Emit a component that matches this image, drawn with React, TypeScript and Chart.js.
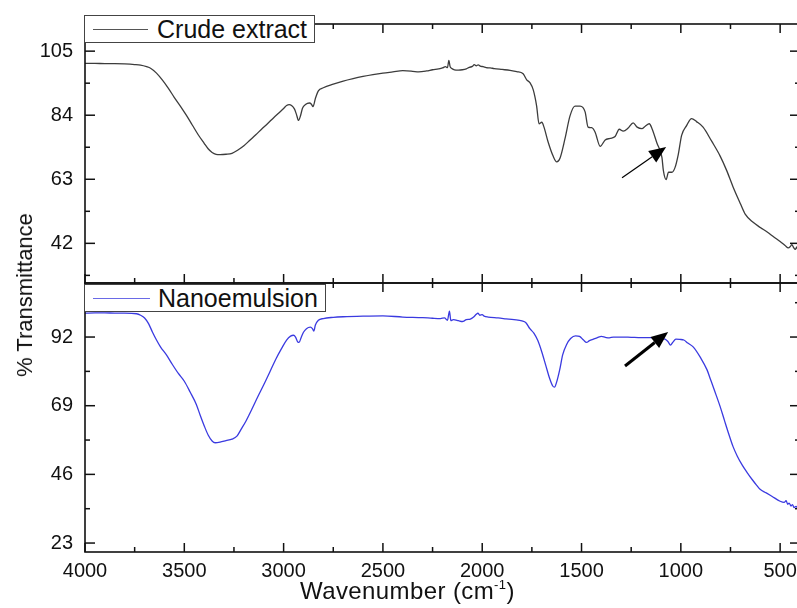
import React, { useEffect, useRef } from "react";
import { Chart, registerables } from "chart.js";

Chart.register(...registerables);

const FONT = '"Liberation Sans", Arial, Helvetica, sans-serif';

// x axis (wavenumber, reversed)
const X_MIN = 400;
const X_MAX = 4000;
const X_MAJOR = [4000, 3500, 3000, 2500, 2000, 1500, 1000, 500];
const X_MINOR = [3750, 3250, 2750, 2250, 1750, 1250, 750];

// top panel (Crude extract)
const TOP_Y_MIN = 29;
const TOP_Y_MAX = 113.9;
const TOP_Y_MAJOR = [42, 63, 84, 105];
const TOP_Y_MINOR = [31.5, 52.5, 73.5, 94.5];

// bottom panel (Nanoemulsion)
const BOT_Y_MIN = 20;
const BOT_Y_MAX = 110.1;
const BOT_Y_MAJOR = [23, 46, 69, 92];
const BOT_Y_MINOR = [34.5, 57.5, 80.5, 103.5];

const CRUDE_LABEL = "Crude extract";
const NANO_LABEL = "Nanoemulsion";

// [wavenumber, %T]
const CRUDE: [number, number][] = [
  [4000, 101.0], [3950, 101.0], [3900, 100.9], [3850, 100.9], [3800, 100.8],
  [3750, 100.6], [3720, 100.4], [3690, 99.9], [3670, 99.4], [3640, 97.8],
  [3610, 95.5], [3580, 92.8], [3550, 89.8], [3520, 87.0], [3490, 84.0],
  [3460, 80.8], [3430, 77.6], [3400, 74.8], [3380, 73.0], [3360, 71.8],
  [3340, 71.2], [3320, 71.1], [3290, 71.2], [3260, 71.5], [3230, 72.6],
  [3200, 74.0], [3170, 75.8], [3140, 77.6], [3110, 79.5], [3080, 81.3],
  [3050, 83.2], [3020, 85.0], [3000, 86.2], [2985, 87.2], [2972, 87.5],
  [2960, 87.2], [2945, 86.0], [2935, 84.2], [2925, 82.3], [2915, 83.8],
  [2905, 86.3], [2890, 87.5], [2870, 88.0], [2860, 87.6], [2852, 86.8],
  [2840, 89.5], [2825, 92.0], [2800, 93.0], [2750, 94.2], [2700, 95.2],
  [2650, 96.0], [2600, 96.7], [2550, 97.3], [2500, 97.8], [2450, 98.2],
  [2400, 98.6], [2350, 98.4], [2320, 98.2], [2280, 98.5], [2250, 98.9],
  [2220, 99.2], [2200, 99.5], [2185, 99.9], [2175, 99.6], [2168, 102.0],
  [2162, 100.0], [2155, 99.4], [2140, 98.9], [2120, 98.8], [2100, 98.9],
  [2080, 99.2], [2065, 99.7], [2050, 100.0], [2040, 100.6], [2030, 100.2],
  [2020, 100.5], [2010, 100.1], [1995, 99.9], [1980, 99.6], [1960, 99.5],
  [1940, 99.3], [1900, 99.0], [1860, 98.7], [1826, 98.3], [1794, 97.6],
  [1776, 95.6], [1759, 94.6], [1743, 92.3], [1726, 87.0], [1714, 81.2],
  [1700, 81.7], [1689, 80.1], [1669, 75.4], [1643, 70.6], [1625, 68.7],
  [1608, 70.0], [1583, 76.4], [1558, 83.8], [1533, 87.0], [1507, 87.0],
  [1482, 85.1], [1467, 80.1], [1449, 79.9], [1432, 78.5], [1406, 73.8],
  [1381, 75.9], [1356, 76.4], [1331, 77.0], [1310, 79.4], [1290, 78.8],
  [1265, 79.8], [1240, 81.5], [1220, 80.1], [1196, 79.6], [1179, 80.4],
  [1159, 81.2], [1145, 79.6], [1120, 74.8], [1095, 70.1], [1088, 65.9],
  [1074, 62.9], [1062, 65.3], [1045, 65.3], [1029, 66.9], [1013, 71.1],
  [996, 77.4], [971, 80.6], [946, 82.9], [921, 81.9], [888, 80.1],
  [844, 75.4], [802, 70.6], [770, 66.0], [737, 60.5], [700, 55.0],
  [676, 51.6], [636, 48.9], [600, 47.2], [567, 45.8], [530, 44.0],
  [500, 42.6], [475, 41.3], [459, 40.5], [448, 41.0], [441, 41.6],
  [432, 40.6], [424, 40.0], [416, 40.8], [408, 39.2], [400, 39.6],
];

const NANO: [number, number][] = [
  [4000, 100.0], [3950, 100.1], [3900, 100.1], [3850, 100.0], [3800, 100.0],
  [3740, 99.8], [3720, 99.3], [3700, 98.4], [3680, 96.5], [3660, 93.6],
  [3640, 91.0], [3620, 88.7], [3590, 86.0], [3560, 82.8], [3530, 79.8],
  [3500, 77.2], [3470, 73.5], [3440, 69.5], [3420, 65.8], [3400, 62.3],
  [3380, 59.2], [3360, 57.2], [3345, 56.6], [3320, 56.8], [3290, 57.3],
  [3260, 57.8], [3235, 58.8], [3215, 61.0], [3190, 63.8], [3160, 67.8],
  [3130, 72.0], [3100, 76.0], [3070, 80.2], [3040, 84.5], [3010, 88.2],
  [2985, 91.0], [2965, 92.3], [2950, 92.6], [2940, 92.0], [2930, 90.5],
  [2922, 90.2], [2912, 91.8], [2900, 93.6], [2885, 94.8], [2865, 95.3],
  [2855, 94.8], [2848, 94.0], [2840, 96.0], [2825, 97.6], [2800, 98.2],
  [2750, 98.6], [2700, 98.8], [2600, 99.0], [2500, 99.1], [2400, 98.7],
  [2300, 98.5], [2250, 98.3], [2210, 98.2], [2190, 98.4], [2175, 97.6],
  [2165, 100.7], [2158, 97.5], [2145, 97.8], [2120, 97.5], [2100, 97.2],
  [2080, 97.8], [2060, 98.0], [2045, 98.6], [2030, 99.6], [2022, 100.0],
  [2012, 99.3], [2000, 99.5], [1990, 99.0], [1970, 98.7], [1920, 98.4],
  [1880, 98.1], [1840, 97.8], [1800, 97.4], [1780, 96.8], [1760, 94.8],
  [1740, 93.3], [1720, 90.8], [1700, 87.0], [1680, 82.5], [1660, 78.0],
  [1645, 75.6], [1636, 75.2], [1625, 77.0], [1610, 81.0], [1595, 86.0],
  [1575, 89.5], [1555, 91.5], [1530, 92.4], [1510, 92.2], [1490, 91.0],
  [1475, 90.2], [1460, 90.8], [1440, 91.3], [1420, 91.8], [1400, 92.2],
  [1380, 91.9], [1360, 91.7], [1340, 92.0], [1300, 92.0], [1250, 91.9],
  [1200, 91.8], [1150, 91.8], [1100, 91.5], [1080, 91.3], [1065, 90.5],
  [1052, 89.3], [1040, 90.3], [1025, 91.3], [1005, 91.2], [985, 91.0],
  [965, 90.0], [938, 88.7], [900, 85.0], [868, 81.0], [850, 77.7],
  [830, 74.0], [802, 68.7], [780, 64.0], [760, 59.8], [737, 55.3],
  [715, 52.0], [690, 49.0], [667, 46.7], [640, 44.2], [620, 42.5],
  [601, 41.0], [570, 39.8], [540, 38.6], [500, 37.0], [480, 36.6],
  [470, 37.2], [462, 36.0], [455, 36.4], [445, 35.4], [438, 35.9],
  [430, 34.9], [420, 35.3], [410, 34.6], [400, 34.8],
];

// arrow annotations in data coordinates: [wavenumber, %T]
const ARROW_TOP = { from: [1296, 63.5], to: [1074, 73.6] };
const ARROW_BOTTOM = { from: [1281, 82.3], to: [1064, 93.7] };

type PanelCfg = {
  data: [number, number][];
  color: string;
  yMin: number;
  yMax: number;
  yMajor: number[];
  yMinor: number[];
  showX: boolean;
  padding: { left: number; right: number; top: number; bottom: number };
  arrow: { from: number[]; to: number[] };
  arrowWidth: number;
};

function framePlugin(cfg: PanelCfg) {
  return {
    id: "frame",
    afterDatasetsDraw(chart: any) {
      const { ctx, chartArea: a, scales } = chart;
      const x = scales.x;
      const y = scales.y;
      ctx.save();
      ctx.strokeStyle = "#111";
      ctx.lineWidth = 1.6;
      ctx.strokeRect(a.left, a.top, a.right - a.left, a.bottom - a.top);
      ctx.lineWidth = 1.5;
      const seg = (x1: number, y1: number, x2: number, y2: number) => {
        ctx.beginPath();
        ctx.moveTo(x1, y1);
        ctx.lineTo(x2, y2);
        ctx.stroke();
      };
      for (const v of cfg.yMajor) {
        const p = y.getPixelForValue(v);
        seg(a.left, p, a.left + 10, p);
        seg(a.right, p, a.right - 10, p);
      }
      for (const v of cfg.yMinor) {
        const p = y.getPixelForValue(v);
        seg(a.left, p, a.left + 5, p);
        seg(a.right, p, a.right - 5, p);
      }
      for (const v of X_MAJOR) {
        const p = x.getPixelForValue(v);
        seg(p, a.top, p, a.top + 9);
        seg(p, a.bottom, p, a.bottom - 9);
      }
      for (const v of X_MINOR) {
        const p = x.getPixelForValue(v);
        seg(p, a.top, p, a.top + 5);
        seg(p, a.bottom, p, a.bottom - 5);
      }
      // arrow
      const fx = x.getPixelForValue(cfg.arrow.from[0]);
      const fy = y.getPixelForValue(cfg.arrow.from[1]);
      const tx = x.getPixelForValue(cfg.arrow.to[0]);
      const ty = y.getPixelForValue(cfg.arrow.to[1]);
      const ang = Math.atan2(ty - fy, tx - fx);
      const hl = 17;
      const hw = 7;
      const bx = tx - hl * Math.cos(ang);
      const by = ty - hl * Math.sin(ang);
      ctx.strokeStyle = "#000";
      ctx.fillStyle = "#000";
      ctx.lineWidth = cfg.arrowWidth;
      ctx.lineCap = "butt";
      seg(fx, fy, bx, by);
      ctx.beginPath();
      ctx.moveTo(tx, ty);
      ctx.lineTo(bx + hw * Math.sin(ang), by - hw * Math.cos(ang));
      ctx.lineTo(bx - hw * Math.sin(ang), by + hw * Math.cos(ang));
      ctx.closePath();
      ctx.fill();
      ctx.restore();
    },
  };
}

function makeConfig(cfg: PanelCfg): any {
  const tickFont = { family: FONT, size: 20 };
  return {
    type: "line",
    data: {
      datasets: [
        {
          data: cfg.data.map(([wx, wy]) => ({ x: wx, y: wy })),
          borderColor: cfg.color,
          borderWidth: 1.3,
          pointRadius: 0,
          fill: false,
          cubicInterpolationMode: "monotone",
        },
      ],
    },
    options: {
      animation: false,
      responsive: false,
      events: [],
      layout: { padding: cfg.padding },
      plugins: { legend: { display: false }, tooltip: { enabled: false } },
      scales: {
        x: {
          type: "linear",
          reverse: true,
          min: X_MIN,
          max: X_MAX,
          display: cfg.showX,
          afterBuildTicks: (s: any) => {
            s.ticks = X_MAJOR.map((v) => ({ value: v }));
          },
          afterFit: (s: any) => {
            s.height = cfg.showX ? 56 : 0;
          },
          grid: { display: false, drawTicks: false },
          border: { display: false },
          ticks: {
            padding: 7,
            color: "#111",
            font: tickFont,
            maxRotation: 0,
            autoSkip: false,
            callback: (v: any) => String(v),
          },
        },
        y: {
          type: "linear",
          min: cfg.yMin,
          max: cfg.yMax,
          afterBuildTicks: (s: any) => {
            s.ticks = cfg.yMajor.map((v) => ({ value: v }));
          },
          afterFit: (s: any) => {
            s.width = 85;
          },
          grid: { display: false, drawTicks: false },
          border: { display: false },
          ticks: {
            padding: 12,
            color: "#111",
            font: tickFont,
            autoSkip: false,
            callback: (v: any) => String(v),
          },
        },
      },
    },
    plugins: [framePlugin(cfg)],
  };
}

export default function App() {
  const topRef = useRef<HTMLCanvasElement>(null);
  const botRef = useRef<HTMLCanvasElement>(null);

  useEffect(() => {
    const top = new Chart(
      topRef.current as HTMLCanvasElement,
      makeConfig({
        data: CRUDE,
        color: "#3c3c3c",
        yMin: TOP_Y_MIN,
        yMax: TOP_Y_MAX,
        yMajor: TOP_Y_MAJOR,
        yMinor: TOP_Y_MINOR,
        showX: false,
        padding: { left: 0, right: 10, top: 15, bottom: 325 },
        arrow: ARROW_TOP,
        arrowWidth: 1.2,
      })
    );
    const bot = new Chart(
      botRef.current as HTMLCanvasElement,
      makeConfig({
        data: NANO,
        color: "#3a3ae0",
        yMin: BOT_Y_MIN,
        yMax: BOT_Y_MAX,
        yMajor: BOT_Y_MAJOR,
        yMinor: BOT_Y_MINOR,
        showX: true,
        padding: { left: 0, right: 10, top: 283, bottom: 0 },
        arrow: ARROW_BOTTOM,
        arrowWidth: 3,
      })
    );
    return () => {
      top.destroy();
      bot.destroy();
    };
  }, []);

  const legendBox = (left: number, top: number, width: number): React.CSSProperties => ({
    position: "absolute",
    left,
    top,
    width,
    height: 28,
    boxSizing: "border-box",
    border: "1px solid #444",
    background: "#fff",
  });

  return (
    <div
      style={{
        position: "absolute",
        left: 0,
        top: 0,
        width: 797,
        height: 608,
        overflow: "hidden",
        background: "#fff",
        fontFamily: FONT,
        color: "#111",
      }}
    >
      <canvas ref={topRef} width={810} height={608} style={{ position: "absolute", left: 0, top: 0 }} />
      <canvas ref={botRef} width={810} height={608} style={{ position: "absolute", left: 0, top: 0 }} />

      <div style={legendBox(84, 15, 231)}>
        <div style={{ position: "absolute", left: 8, top: 13, width: 55, height: 1.3, background: "#555" }} />
        <div style={{ position: "absolute", left: 72, top: 0, fontSize: 25, lineHeight: "26px", whiteSpace: "nowrap" }}>
          {CRUDE_LABEL}
        </div>
      </div>

      <div style={legendBox(84, 284, 242)}>
        <div style={{ position: "absolute", left: 8, top: 13, width: 57, height: 1.3, background: "#6a6ae6" }} />
        <div style={{ position: "absolute", left: 73, top: 0, fontSize: 25, lineHeight: "26px", whiteSpace: "nowrap" }}>
          {NANO_LABEL}
        </div>
      </div>

      <div
        style={{
          position: "absolute",
          left: 300,
          top: 579,
          fontSize: 24,
          lineHeight: "24px",
          letterSpacing: 0.4,
          whiteSpace: "nowrap",
        }}
      >
        Wavenumber (cm<span style={{ fontSize: 13, position: "relative", top: -10 }}>-1</span>)
      </div>

      <div
        style={{
          position: "absolute",
          left: 25,
          top: 295,
          fontSize: 22,
          lineHeight: "22px",
          whiteSpace: "nowrap",
          transform: "translate(-50%, -50%) rotate(-90deg)",
        }}
      >
        % Transmittance
      </div>
    </div>
  );
}
